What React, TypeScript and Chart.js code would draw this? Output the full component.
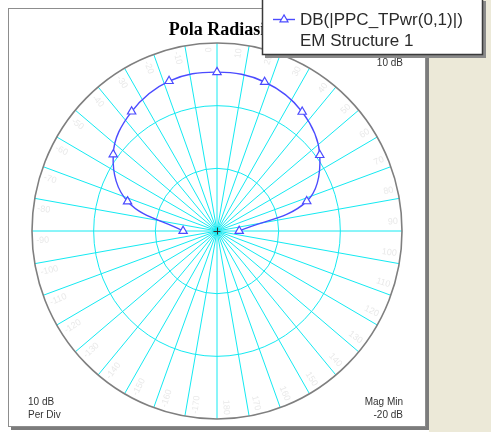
import React, { useEffect, useRef } from 'react';
import { Chart, registerables } from 'chart.js';

Chart.register(...registerables);

// ---------------- data ----------------
const TITLE = 'Pola Radiasi';
const LEGEND_LABEL = 'DB(|PPC_TPwr(0,1)|)';
const LEGEND_SUB = 'EM Structure 1';

// angle in degrees (0 = top, clockwise positive)
const anglesDeg = [-90, -72, -54, -36, -18, 0, 18, 36, 54, 72, 90];
// magnitude in dB
const magDb = [-14.5, -4.75, 0.8, 3.55, 5.15, 5.35, 5.0, 3.5, 0.6, -4.7, -16.4];

const MAG_MIN = -20;
const DB_PER_DIV = 10;
const NUM_DIVS = 3;
const MAG_MAX = MAG_MIN + DB_PER_DIV * NUM_DIVS;

const spokeLabels = [
  0, 10, 20, 30, 40, 50, 60, 70, 80, 90, 100, 110, 120, 130, 140, 150, 160, 170, 180,
  -170, -160, -150, -140, -130, -120, -110, -100, -90, -80, -70, -60, -50, -40, -30, -20, -10,
];

const cornerTexts = {
  perDivTop: '10 dB',
  perDivBottom: 'Per Div',
  minTop: 'Mag Min',
  minBottom: '-20 dB',
  maxLabel: '10 dB',
};

// ---------------- drawing ----------------
const W = 491;
const H = 432;
const GRID = 'rgb(20, 234, 242)';
const SERIES = '#4b4bff';
const SANS = '"Liberation Sans", Arial, sans-serif';
const SERIF = '"Liberation Serif", "Times New Roman", serif';

const DEG = Math.PI / 180;
const toRad = (db: number) => db - MAG_MIN;

const seriesPoints = anglesDeg.map((a, i) => ({
  x: toRad(magDb[i]) * Math.sin(a * DEG),
  y: toRad(magDb[i]) * Math.cos(a * DEG),
}));

function geometry(chart: any) {
  const xs = chart.scales.x;
  const ys = chart.scales.y;
  const cx = xs.getPixelForValue(0);
  const cy = ys.getPixelForValue(0);
  const R = MAG_MAX - MAG_MIN;
  const rx = xs.getPixelForValue(R) - cx;
  const ry = cy - ys.getPixelForValue(R);
  return { cx, cy, rx, ry };
}

function drawTriangle(ctx: CanvasRenderingContext2D, x: number, y: number, r: number) {
  ctx.beginPath();
  ctx.moveTo(x, y - r);
  ctx.lineTo(x + r * 0.866, y + r * 0.5);
  ctx.lineTo(x - r * 0.866, y + r * 0.5);
  ctx.closePath();
  ctx.fillStyle = '#ffffff';
  ctx.fill();
  ctx.stroke();
}

const polarPlugin = {
  id: 'polarFrame',
  beforeDraw(chart: any) {
    const ctx: CanvasRenderingContext2D = chart.ctx;
    const { cx, cy, rx, ry } = geometry(chart);
    ctx.save();
    // page
    ctx.fillStyle = '#ffffff';
    ctx.fillRect(0, 0, W, H);
    ctx.fillStyle = '#ECE9D8';
    ctx.fillRect(429, 0, W - 429, H);
    // frame shadow + frame
    ctx.fillStyle = '#7c7c7c';
    ctx.fillRect(11, 11, 418, 419);
    ctx.fillStyle = '#ffffff';
    ctx.fillRect(8, 8, 418, 419);
    ctx.strokeStyle = '#8d8d8d';
    ctx.lineWidth = 1;
    ctx.strokeRect(8.5, 8.5, 417, 418);

    // rings
    ctx.strokeStyle = GRID;
    ctx.lineWidth = 1;
    for (let k = 1; k < NUM_DIVS; k++) {
      ctx.beginPath();
      ctx.ellipse(cx, cy, (rx * k) / NUM_DIVS, (ry * k) / NUM_DIVS, 0, 0, Math.PI * 2);
      ctx.stroke();
    }
    // spokes
    spokeLabels.forEach((a) => {
      ctx.beginPath();
      ctx.moveTo(cx, cy);
      ctx.lineTo(cx + rx * Math.sin(a * DEG), cy - ry * Math.cos(a * DEG));
      ctx.stroke();
    });
    // angle labels (very faint)
    ctx.fillStyle = '#e9e9e9';
    ctx.font = '9px ' + SANS;
    ctx.textBaseline = 'middle';
    spokeLabels.forEach((a) => {
      const la = (a - 3) * DEG;
      const px = cx + (rx - 4) * Math.sin(la);
      const py = cy - (ry - 4) * Math.cos(la);
      let rot = Math.atan2(Math.cos(la), -Math.sin(la));
      ctx.save();
      ctx.translate(px, py);
      const right = Math.sin(la) > 0.0001;
      if (right) {
        rot += Math.PI;
        ctx.textAlign = 'right';
      } else {
        ctx.textAlign = 'left';
      }
      ctx.rotate(rot);
      ctx.fillText(String(a), 0, 0);
      ctx.restore();
    });
    // outer circle
    ctx.strokeStyle = '#7f7f7f';
    ctx.lineWidth = 1.6;
    ctx.beginPath();
    ctx.ellipse(cx, cy, rx, ry, 0, 0, Math.PI * 2);
    ctx.stroke();

    // corner texts
    ctx.fillStyle = '#333333';
    ctx.font = '10px ' + SANS;
    ctx.textBaseline = 'alphabetic';
    ctx.textAlign = 'left';
    ctx.fillText(cornerTexts.perDivTop, 28, 405);
    ctx.fillText(cornerTexts.perDivBottom, 28, 418);
    ctx.textAlign = 'right';
    ctx.fillText(cornerTexts.minTop, 403, 405);
    ctx.fillText(cornerTexts.minBottom, 403, 418);
    ctx.fillText(cornerTexts.maxLabel, 403, 66);
    ctx.restore();
  },
  afterDraw(chart: any) {
    const ctx: CanvasRenderingContext2D = chart.ctx;
    const { cx, cy } = geometry(chart);
    ctx.save();
    // center crosshair
    ctx.strokeStyle = '#333333';
    ctx.lineWidth = 1;
    ctx.beginPath();
    ctx.moveTo(cx - 3.5, cy + 0.5);
    ctx.lineTo(cx + 3.5, cy + 0.5);
    ctx.moveTo(cx + 0.5, cy - 3.5);
    ctx.lineTo(cx + 0.5, cy + 3.5);
    ctx.stroke();

    // title
    ctx.fillStyle = '#000000';
    ctx.font = 'bold 18px ' + SERIF;
    ctx.textAlign = 'center';
    ctx.textBaseline = 'alphabetic';
    ctx.fillText(TITLE, cx, 35);

    // legend box
    const bx = 262, by = -2, bw = 221, bh = 57;
    ctx.fillStyle = '#8a8a8a';
    ctx.fillRect(bx + 3, by + 3, bw, bh);
    ctx.fillStyle = '#ffffff';
    ctx.fillRect(bx, by, bw, bh);
    ctx.strokeStyle = '#3a3a3a';
    ctx.lineWidth = 1.5;
    ctx.strokeRect(bx + 0.5, by + 0.5, bw - 1, bh - 1);
    // legend sample
    ctx.strokeStyle = SERIES;
    ctx.lineWidth = 1.4;
    ctx.beginPath();
    ctx.moveTo(273, 19.5);
    ctx.lineTo(295, 19.5);
    ctx.stroke();
    ctx.lineWidth = 1.2;
    drawTriangle(ctx, 284, 19.5, 4.6);
    // legend text
    ctx.fillStyle = '#2a2a2a';
    ctx.font = '17px ' + SANS;
    ctx.textAlign = 'left';
    ctx.fillText(LEGEND_LABEL, 300, 25);
    ctx.fillText(LEGEND_SUB, 300, 46);
    ctx.restore();
  },
};

export default function App() {
  const ref = useRef<HTMLCanvasElement | null>(null);
  useEffect(() => {
    if (!ref.current) return;
    const R = MAG_MAX - MAG_MIN;
    const chart = new Chart(ref.current, {
      type: 'scatter',
      data: {
        datasets: [
          {
            label: LEGEND_LABEL,
            data: seriesPoints,
            showLine: true,
            tension: 0.38,
            borderColor: SERIES,
            borderWidth: 1.4,
            pointStyle: 'triangle',
            pointRadius: 4.8,
            pointBorderWidth: 1.2,
            pointBackgroundColor: '#ffffff',
            pointBorderColor: SERIES,
            clip: false as any,
          } as any,
        ],
      },
      options: {
        responsive: false,
        maintainAspectRatio: false,
        animation: false,
        devicePixelRatio: 1,
        layout: { padding: { left: 32, right: 89, top: 43, bottom: 13 } },
        scales: {
          x: { type: 'linear', min: -R, max: R, display: false },
          y: { type: 'linear', min: -R, max: R, display: false },
        },
        plugins: {
          legend: { display: false },
          title: { display: false },
          tooltip: { enabled: false },
        },
        events: [],
      },
      plugins: [polarPlugin],
    });
    return () => chart.destroy();
  }, []);
  return (
    <div style={{ position: 'fixed', left: 0, top: 0, width: W, height: H }}>
      <canvas ref={ref} width={W} height={H} style={{ display: 'block', width: W, height: H }} />
    </div>
  );
}
